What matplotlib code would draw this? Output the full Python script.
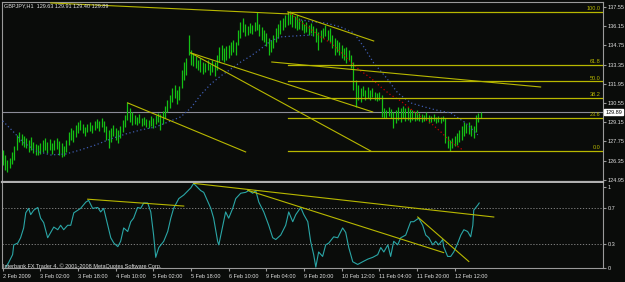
import matplotlib
matplotlib.use('Agg')
import matplotlib.pyplot as plt
import matplotlib.transforms as mtransforms

plt.rcParams['font.family'] = ['Liberation Sans', 'DejaVu Sans']

# GBPJPY H1, one bar per hour, high / low of each bar
highs = [127.14, 126.77, 126.41, 126.55, 126.99, 127.43, 128.23, 128.45, 128.30, 128.16,
         128.01, 127.87, 128.08, 127.72, 127.57, 127.50, 127.65, 127.87, 128.01, 127.72,
         127.94, 127.65, 127.87, 128.01, 127.79, 127.65, 127.43, 127.87, 128.45, 128.74,
         128.59, 128.96, 129.18, 129.32, 129.03, 128.81, 129.03, 129.18, 128.96, 129.25,
         129.40, 129.25, 129.47, 129.25, 128.88, 128.59, 128.74, 128.96, 128.74, 128.59,
         128.88, 129.32, 129.68, 130.63, 130.19, 129.90, 129.68, 129.54, 129.75, 129.47,
         129.54, 129.40, 129.32, 129.61, 129.47, 129.68, 129.82, 129.75, 129.97, 130.34,
         130.78, 131.14, 131.65, 131.87, 131.50, 131.80, 132.96, 133.54, 133.84, 135.51,
         134.42, 134.20, 133.98, 133.69, 133.84, 133.54, 133.47, 133.69, 133.40, 133.69,
         133.54, 134.05, 134.64, 134.78, 134.56, 134.71, 134.78, 135.00, 135.15, 135.00,
         135.87, 136.46, 136.75, 136.31, 136.17, 136.38, 136.24, 136.46, 137.19, 136.31,
         136.09, 135.87, 135.66, 135.29, 135.15, 135.51, 136.02, 136.31, 136.60, 136.75,
         136.97, 137.19, 137.26, 137.04, 136.90, 136.97, 136.75, 136.60, 136.31, 136.46,
         136.24, 136.38, 136.17, 136.02, 135.73, 135.87, 136.02, 136.24, 135.87, 136.02,
         135.51, 135.29, 135.15, 135.00, 134.78, 134.56, 134.64, 134.42, 134.05, 133.54,
         132.23, 131.87, 131.65, 131.80, 131.50, 131.72, 131.50, 131.65, 131.36, 131.29,
         131.36, 131.14, 130.19, 130.05, 130.27, 130.12, 129.90, 130.05, 130.27, 130.19,
         130.34, 130.19, 130.27, 130.12, 130.05, 129.90, 130.05, 129.82, 129.75, 129.68,
         129.90, 129.68, 129.61, 129.75, 129.54, 129.61, 129.54, 129.61, 129.47, 128.16,
         127.87, 128.01, 128.16, 128.38, 128.59, 128.88, 129.18, 129.03, 129.18, 128.96,
         128.88, 129.68, 129.82, 129.90]
lows = [126.04, 125.68, 125.53, 125.82, 126.11, 126.41, 127.14, 127.72, 127.50, 127.35,
        127.28, 126.99, 127.14, 126.92, 126.77, 126.77, 126.85, 126.99, 127.14, 126.92,
        127.14, 126.85, 127.14, 127.21, 126.77, 126.63, 126.70, 126.99, 127.50, 127.87,
        127.72, 128.08, 128.38, 128.59, 128.38, 128.16, 128.45, 128.52, 128.38, 128.59,
        128.74, 128.52, 128.81, 128.45, 127.87, 127.28, 127.72, 128.16, 127.87, 127.65,
        128.01, 128.45, 128.81, 129.32, 129.18, 128.96, 129.03, 128.96, 129.10, 128.88,
        128.96, 128.81, 128.74, 128.88, 128.74, 129.03, 129.18, 128.59, 129.03, 129.47,
        129.90, 130.19, 130.63, 130.92, 130.48, 130.78, 131.65, 132.23, 132.60, 134.05,
        133.33, 133.25, 133.11, 132.96, 132.82, 132.67, 132.82, 132.96, 132.60, 132.82,
        132.52, 132.96, 133.54, 133.69, 133.54, 133.69, 133.84, 134.05, 134.27, 134.05,
        134.78, 135.29, 135.73, 135.44, 135.51, 135.66, 135.58, 135.80, 135.87, 135.44,
        135.15, 135.00, 134.71, 134.05, 134.27, 134.56, 135.00, 135.29, 135.58, 135.87,
        136.09, 136.24, 136.31, 136.09, 136.02, 135.87, 135.95, 135.87, 135.66, 135.73,
        135.51, 135.66, 135.44, 135.00, 134.42, 135.00, 135.29, 135.44, 135.15, 135.00,
        134.56, 134.05, 134.27, 134.05, 133.84, 133.69, 133.47, 133.69, 133.11, 131.50,
        130.27, 130.78, 130.63, 131.07, 130.78, 130.92, 130.78, 131.00, 130.78, 130.70,
        130.78, 129.54, 129.47, 129.47, 129.61, 129.47, 128.74, 129.10, 129.32, 129.18,
        129.47, 129.25, 129.32, 129.18, 129.32, 129.25, 129.32, 129.25, 129.18, 129.25,
        129.32, 129.10, 129.18, 129.25, 129.10, 129.18, 129.10, 129.25, 127.65, 127.28,
        127.06, 127.28, 127.43, 127.50, 127.72, 127.87, 128.16, 128.38, 128.30, 128.16,
        128.01, 128.45, 129.18, 129.47]
last_price = 129.89

# dotted moving averages (bar position, price)
ma_slow_x = [0, 4.2, 8.5, 14.0, 20.4, 26.8, 33.1, 39.5, 45.9, 52.3, 58.6, 65.0, 71.4, 75.6,
             79.9, 84.1, 88.4, 92.6, 96.9, 101.1, 105.4, 109.6, 113.8, 118.1, 124.5, 131.7]
ma_slow_y = [129.25, 128.52, 127.72, 127.06, 126.77, 126.84, 127.14, 127.50, 127.94, 128.30,
             128.59, 128.81, 129.25, 129.54, 130.19, 131.14, 131.94, 132.52, 133.03, 133.54,
             133.98, 134.49, 135.07, 135.37, 135.44, 135.51]
ma_fast_x = [126.6, 132.1, 137.2, 143.6, 149.1, 153.4, 157.6, 162.7, 167.8, 173.3, 177.6,
             183.9, 190.3, 196.7, 201.8]
ma_fast_y = [136.60, 136.46, 136.38, 136.09, 135.66, 134.64, 133.47, 132.45, 131.29, 130.56,
             130.34, 130.05, 129.83, 129.10, 128.23]
ma_red_x = [122.3, 126.6, 130.8, 135.1, 139.3, 143.6, 147.8, 152.1, 156.3, 160.6, 164.8,
            169.1, 173.3, 177.6, 181.8, 186.1, 190.3, 195.4]
ma_red_y = [137.04, 136.46, 135.95, 135.37, 134.93, 134.27, 133.54, 132.89, 132.38, 131.72,
            131.14, 130.70, 130.12, 129.54, 129.10, 128.45, 127.72, 127.14]

# trend lines drawn on the chart: (bar0, price0, bar1, price1)
trend_lines = [(20.4, 137.84, 121.5, 137.04),
               (121.1, 137.19, 157.6, 135.07),
               (53.1, 130.56, 103.2, 126.99),
               (79.9, 134.20, 157.2, 129.90),
               (79.9, 134.20, 156.3, 127.06),
               (114.3, 133.54, 228.5, 131.72)]

# fibonacci retracement
fib_start = 121.1
fib_low = 127.06
fib_high = 137.19
fib_levels = [0.0, 23.6, 38.2, 50.0, 61.8, 100.0]

# oscillator in the lower window (bar position, value)
osc_x = [1.3, 2.5, 4.2, 4.7, 6.4, 7.6, 8.9, 9.8, 11.0, 11.9, 13.2, 14.9, 16.1, 17.4, 19.1,
         20.4, 21.7, 23.4, 24.6, 25.9, 27.6, 28.9, 30.2, 33.1, 35.3, 36.5, 38.2, 40.4, 41.6,
         42.9, 44.6, 45.9, 47.2, 48.9, 50.1, 51.4, 53.1, 54.4, 55.6, 57.3, 58.6, 59.9, 61.6,
         62.9, 64.1, 65.0, 66.3, 68.4, 70.1, 71.4, 72.6, 74.8, 76.9, 79.9, 81.1, 84.1, 85.4,
         88.4, 89.6, 91.3, 91.8, 93.5, 94.7, 96.0, 97.7, 99.0, 101.1, 103.2, 104.5, 106.2,
         107.5, 108.8, 110.9, 113.0, 114.7, 116.0, 118.1, 120.2, 121.5, 123.2, 124.5, 126.6,
         127.9, 129.6, 130.8, 132.1, 133.0, 134.2, 135.9, 137.2, 138.5, 140.6, 142.3, 144.4,
         145.7, 147.0, 148.7, 150.8, 152.9, 155.1, 157.2, 159.3, 160.6, 161.9, 163.6, 164.8,
         166.1, 167.8, 169.1, 171.2, 173.3, 174.6, 176.7, 178.4, 179.7, 181.0, 182.7, 183.9,
         185.2, 186.9, 187.3, 189.0, 190.3, 191.6, 193.3, 194.6, 195.9, 197.5, 198.8, 199.7,
         200.1, 201.0, 201.9, 202.4]
osc_y = [0.04, 0.09, 0.18, 0.29, 0.31, 0.37, 0.48, 0.65, 0.70, 0.63, 0.68, 0.71, 0.59, 0.54,
         0.37, 0.43, 0.49, 0.46, 0.51, 0.46, 0.51, 0.51, 0.65, 0.70, 0.77, 0.79, 0.70, 0.71,
         0.66, 0.70, 0.51, 0.37, 0.31, 0.27, 0.33, 0.48, 0.44, 0.55, 0.59, 0.71, 0.70, 0.76,
         0.76, 0.66, 0.40, 0.15, 0.26, 0.33, 0.44, 0.59, 0.70, 0.81, 0.85, 0.93, 0.98, 0.90,
         0.88, 0.70, 0.59, 0.33, 0.29, 0.51, 0.66, 0.59, 0.70, 0.81, 0.87, 0.88, 0.90, 0.87,
         0.90, 0.77, 0.66, 0.51, 0.37, 0.35, 0.40, 0.51, 0.66, 0.55, 0.63, 0.71, 0.63, 0.55,
         0.33, 0.18, 0.04, 0.21, 0.16, 0.29, 0.31, 0.38, 0.37, 0.48, 0.43, 0.26, 0.10, 0.07,
         0.10, 0.13, 0.15, 0.18, 0.26, 0.21, 0.29, 0.16, 0.33, 0.29, 0.37, 0.40, 0.55, 0.55,
         0.59, 0.51, 0.40, 0.37, 0.29, 0.33, 0.29, 0.35, 0.27, 0.16, 0.16, 0.21, 0.31, 0.40,
         0.46, 0.44, 0.38, 0.51, 0.68, 0.71, 0.74, 0.76]
osc_lines = [(36.1, 0.803, 76.9, 0.726),
             (81.1, 0.981, 208.6, 0.603),
             (104.1, 0.903, 187.3, 0.203),
             (176.3, 0.603, 198.0, 0.103)]
osc_ticks = [0.94, 0.7, 0.3, 0.035]
osc_tick_labels = ['1', '0.7', '0.3', '0']

price_ticks = [137.55, 136.15, 134.75, 133.35, 131.95, 130.55, 129.15, 127.75, 126.35, 124.95]
date_pos = [0, 16, 32, 48, 64, 80, 96, 112, 128, 144, 160, 176, 192]
date_labels = ['2 Feb 2009', '3 Feb 02:00', '3 Feb 18:00', '4 Feb 10:00', '5 Feb 02:00',
               '5 Feb 18:00', '6 Feb 10:00', '9 Feb 04:00', '9 Feb 20:00', '10 Feb 12:00',
               '11 Feb 04:00', '11 Feb 20:00', '12 Feb 12:00']

BG = '#0a0c0a'
YEL = '#b8b800'
TXT = '#e0e0e0'
GRID = '#9a9a9a'
FS = 4.0

W, H = 625, 282
fig = plt.figure(figsize=(W / 100, H / 100), dpi=100)
fig.patch.set_facecolor(BG)


def box(l, t, r, b):
    return [l / W, 1 - b / H, (r - l) / W, (b - t) / H]


ax = fig.add_axes(box(2, 2, 603, 182))
ax2 = fig.add_axes(box(2, 183, 603, 268), sharex=ax)

for a in (ax, ax2):
    a.set_facecolor(BG)
    for s in a.spines.values():
        s.set_color(GRID)
        s.set_linewidth(0.8)
ax.spines['bottom'].set_color('#b0b0b0')
ax.spines['bottom'].set_linewidth(1.6)
ax2.spines['top'].set_visible(False)

ax.set_xlim(-0.3, 255.0)
ax.set_ylim(124.80, 137.91)
ax2.set_ylim(0.03, 0.985)

# price bars
idx = list(range(len(highs)))
ax.vlines(idx, lows, highs, color='#14c014', lw=0.9, zorder=3)

# bid line
ax.axhline(last_price, color='#8c8c98', lw=0.8, zorder=2)

# moving averages
dots = (0, (1, 2))
ax.plot(ma_slow_x, ma_slow_y, color='#3e5cb0', lw=0.9, ls=dots, zorder=4)
ax.plot(ma_fast_x, ma_fast_y, color='#3e5cb0', lw=0.9, ls=dots, zorder=4)
ax.plot(ma_red_x, ma_red_y, color='#c80000', lw=0.9, ls=dots, zorder=4)

for x0, y0, x1, y1 in trend_lines:
    ax.plot([x0, x1], [y0, y1], color=YEL, lw=0.8, zorder=5)

# fibo
xmax = ax.get_xlim()[1]
for lev in fib_levels:
    p = fib_low + (fib_high - fib_low) * lev / 100
    ax.plot([fib_start, xmax], [p, p], color=YEL, lw=0.9, zorder=5)
    ax.text(xmax - 1.2, p + 0.06, '%.1f' % lev, color=YEL, fontsize=FS,
            ha='right', va='bottom', zorder=6)

# right price scale
ax.yaxis.tick_right()
ax.set_yticks(price_ticks)
ax.set_yticklabels(['%.2f' % v for v in price_ticks])
ax.tick_params(axis='y', colors=GRID, labelcolor=TXT, labelsize=FS, length=2, pad=1.2)
ax.tick_params(axis='x', bottom=False, labelbottom=False)

trans = mtransforms.blended_transform_factory(ax.transAxes, ax.transData)
ax.text(1.0035, last_price, '%.2f' % last_price, transform=trans, fontsize=FS,
        color='black', va='center', ha='left',
        bbox=dict(boxstyle='square,pad=0.12', fc='white', ec='white'))

# oscillator window
ax2.plot(osc_x, osc_y, color='#2aa6a6', lw=0.8, zorder=3)
for lvl in (0.3, 0.7):
    ax2.axhline(lvl, color='#909090', lw=0.6, ls=(0, (1.5, 2)), zorder=1)
for x0, y0, x1, y1 in osc_lines:
    ax2.plot([x0, x1], [y0, y1], color=YEL, lw=0.8, zorder=4)

ax2.yaxis.tick_right()
ax2.set_yticks(osc_ticks)
ax2.set_yticklabels(osc_tick_labels)
ax2.tick_params(axis='y', colors=GRID, labelcolor=TXT, labelsize=FS, length=2, pad=1.2)

ax2.set_xticks(date_pos)
ax2.set_xticklabels(date_labels)
ax2.tick_params(axis='x', colors=GRID, labelcolor=TXT, labelsize=FS, length=2.5, pad=1.5)
for lab in ax2.get_xticklabels():
    lab.set_horizontalalignment('left')

fig.text(4 / W, 1 - 6 / H, 'GBPJPY,H1  129.63 129.91 129.40 129.89', color=TXT,
         fontsize=FS, va='center', ha='left')
fig.text(3 / W, 1 - 266 / H, 'Interbank FX Trader 4, \u00a9 2001-2008 MetaQuotes Software Corp.',
         color=TXT, fontsize=FS, va='center', ha='left')

fig.savefig('out.png', dpi=100, facecolor=BG)
